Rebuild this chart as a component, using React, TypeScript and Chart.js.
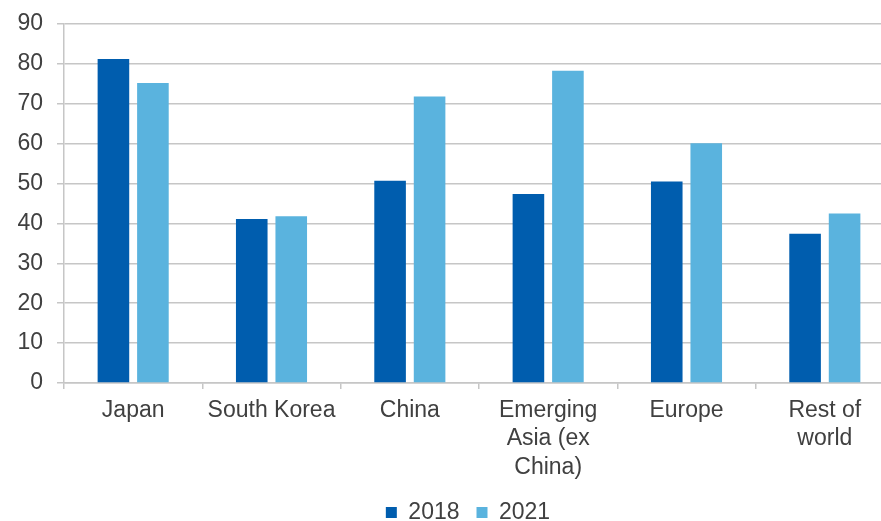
import React, { useEffect, useRef } from "react";
import { Chart, registerables } from "chart.js";

Chart.register(...registerables);

const categories: (string | string[])[] = [
  "Japan",
  "South Korea",
  "China",
  ["Emerging", "Asia (ex", "China)"],
  "Europe",
  ["Rest of", "world"],
];
const values2018 = [81.2, 41.1, 50.7, 47.4, 50.5, 37.4];
const values2021 = [75.2, 41.8, 71.8, 78.3, 60.1, 42.5];
const seriesLabels = ["2018", "2021"];
const yTicks = { min: 0, max: 90, step: 10 };

const TEXT = "#404040";
const GRID = "#c6c6c6";
const FONT = "'Liberation Sans', Arial, sans-serif";

const legendShift = {
  id: "legendShift",
  afterLayout(chart: any) {
    const lg = chart.legend;
    if (lg) {
      lg.left += 21;
      lg.right += 21;
    }
  },
};

export default function App() {
  const ref = useRef<HTMLCanvasElement | null>(null);
  useEffect(() => {
    if (!ref.current) return;
    const chart = new Chart(ref.current, {
      type: "bar",
      data: {
        labels: categories,
        datasets: [
          {
            label: seriesLabels[0],
            data: values2018,
            backgroundColor: "#005DAE",
            barPercentage: 0.8,
            categoryPercentage: 0.571,
          },
          {
            label: seriesLabels[1],
            data: values2021,
            backgroundColor: "#5AB3DE",
            barPercentage: 0.8,
            categoryPercentage: 0.571,
          },
        ],
      },
      plugins: [legendShift],
      options: {
        animation: false,
        responsive: true,
        maintainAspectRatio: false,
        layout: { padding: { top: 24, left: 0, right: 0, bottom: 0 } },
        plugins: {
          tooltip: { enabled: false },
          legend: {
            position: "bottom",
            labels: {
              boxWidth: 11,
              boxHeight: 11,
              padding: 17,
              color: TEXT,
              font: { family: FONT, size: 23 },
            },
          },
        },
        scales: {
          x: {
            grid: {
              offset: true,
              drawOnChartArea: false,
              drawTicks: true,
              tickLength: 6,
              color: GRID,
              lineWidth: 1.5,
            },
            border: { display: true, color: GRID, width: 1.5 },
            ticks: {
              color: TEXT,
              font: { family: FONT, size: 23, lineHeight: 1.25 },
              padding: 7,
              maxRotation: 0,
              minRotation: 0,
              autoSkip: false,
            },
            afterFit: (s: any) => {
              s.height = 101;
            },
          },
          y: {
            min: yTicks.min,
            max: yTicks.max,
            grid: {
              color: GRID,
              lineWidth: 1.5,
              drawTicks: true,
              tickLength: 7,
            },
            border: { display: true, color: GRID, width: 1.5 },
            ticks: {
              stepSize: yTicks.step,
              color: TEXT,
              font: { family: FONT, size: 23 },
              padding: 14,
            },
            afterFit: (s: any) => {
              s.width = 64;
              s.paddingTop = 0;
              s.paddingBottom = 0;
            },
          },
        },
      },
    });
    return () => chart.destroy();
  }, []);
  return (
    <div
      style={{
        position: "fixed",
        left: 0,
        top: 0,
        width: 881,
        height: 521,
        overflow: "hidden",
        background: "#fff",
      }}
    >
      <div style={{ position: "relative", width: 894, height: 534 }}>
        <canvas ref={ref} />
      </div>
    </div>
  );
}
